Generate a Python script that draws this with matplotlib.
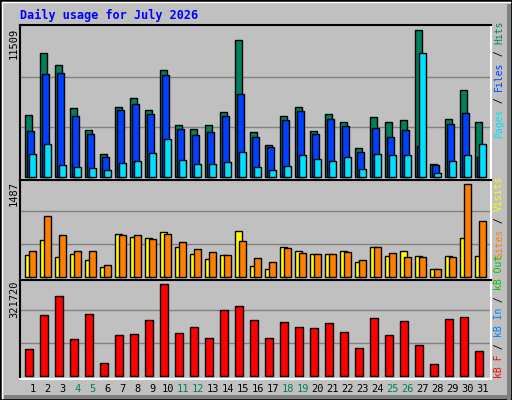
import numpy as np
import matplotlib
matplotlib.use("Agg")
import matplotlib.pyplot as plt
import matplotlib.patches as patches

# webalizer style daily usage
days = list(range(1, 32))
weekend = [4, 5, 11, 12, 18, 19, 25, 26]

hits = [4872, 9713, 8776, 5419, 3701, 1827, 5497, 6200, 5263, 8386, 4091, 3779, 4091, 5106, 10728, 3545,
        2530, 4794, 5497, 3623, 4950, 4326, 2296, 4716, 4326, 4482, 11509, 1046, 4560, 6824, 4326]
files = [3623, 8073, 8152, 4794, 3389, 1593, 5263, 5731, 4950, 7995, 3779, 3311, 3545, 4794, 6512, 3154,
         2374, 4482, 5184, 3389, 4560, 4013, 1983, 3857, 3154, 3701, 2452, 968, 4169, 5028, 1593]
pages = [1827, 2608, 968, 812, 734, 578, 1124, 1281, 1905, 2998, 1359, 1046, 1046, 1202, 1983, 812,
         578, 890, 1749, 1437, 1281, 1593, 656, 1827, 1749, 1749, 9713, 344, 1281, 1749, 2608]
visits = [343, 585, 311, 359, 263, 150, 681, 633, 617, 714, 472, 359, 279, 343, 730, 166,
          118, 472, 408, 359, 359, 408, 230, 472, 327, 408, 327, 118, 327, 617, 327]
sites = [408, 971, 665, 408, 408, 182, 665, 665, 601, 681, 553, 440, 391, 343, 569, 295,
         230, 456, 375, 359, 359, 391, 263, 472, 375, 311, 311, 118, 311, 1487, 891]
kbytes = [92681, 212497, 279453, 127921, 216021, 43345, 142017, 145541, 194877, 321720, 149065,
          170209, 131445, 230117, 244213, 194877, 131445, 187829, 170209, 166685, 184305, 152589,
          96205, 201925, 142017, 191353, 106777, 39821, 198401, 205449, 85633]

C_HITS, C_FILES, C_PAGES = "#00805c", "#0040ff", "#00e0ff"
C_VISITS, C_SITES = "#ffff00", "#ff8000"
C_KBF, C_KBIN, C_KBOUT = "#ff0000", "#0080ff", "#00c000"
BG = "#c0c0c0"
MONO = "DejaVu Sans Mono"

W, H = 512, 400
fig = plt.figure(figsize=(W / 100, H / 100), dpi=100, facecolor=BG)

def px_axes(x0, y0, x1, y1):
    return fig.add_axes([x0 / W, 1 - y1 / H, (x1 - x0) / W, (y1 - y0) / H])

# frame / bevel
fig.patches.append(patches.Rectangle((0, 0), 1, 1, transform=fig.transFigure, fill=False,
                                     edgecolor="black", lw=2))
fig.patches.append(patches.Rectangle((1 - 5 / W, 0), 4 / W, 1 - 4 / H, transform=fig.transFigure,
                                     color="#808080", lw=0))
fig.patches.append(patches.Rectangle((4 / W, 1 / H), 1 - 5 / W, 4 / H, transform=fig.transFigure,
                                     color="#808080", lw=0))
fig.lines.append(plt.Line2D([2 / W, 2 / W, 1 - 2 / W], [2 / H, 1 - 2 / H, 1 - 2 / H],
                            transform=fig.transFigure, color="white", lw=1))

x = np.arange(31) * 15 + 5.3
bk = dict(edgecolor="black", linewidth=1, align="edge")

def style(ax, top, u):
    ax.set_facecolor(BG)
    ax.set_xlim(0, 471)
    ax.set_ylim(-3.3 * u, top * u)
    for g in (33 * u, 66 * u):
        ax.axhline(g, color="#808080", lw=1, zorder=0)
    ax.set_xticks([])
    ax.set_yticks([])
    for s in ("left", "top"):
        ax.spines[s].set_color("black")
        ax.spines[s].set_linewidth(1.5)
    for s in ("right", "bottom"):
        ax.spines[s].set_color("white")
        ax.spines[s].set_linewidth(1.5)

# hits / files / pages
ax1 = px_axes(20, 25, 491, 180)
u1 = max(hits) / 147.4
ax1.set_facecolor(BG)
ax1.set_xlim(0, 471)
ax1.set_ylim(-3 * u1, 152 * u1)
for g in (50 * u1, 100 * u1):
    ax1.axhline(g, color="#808080", lw=1, zorder=0)
ax1.set_xticks([]); ax1.set_yticks([])
for s in ("left", "top"):
    ax1.spines[s].set_linewidth(1.5)
for s in ("right", "bottom"):
    ax1.spines[s].set_color("white"); ax1.spines[s].set_linewidth(1.5)
ax1.bar(x, hits, 7, color=C_HITS, **bk)
ax1.bar(x + 1.7, files, 7.3, color=C_FILES, **bk)
ax1.bar(x + 3.7, pages, 7.3, color=C_PAGES, **bk)

# visits / sites
ax2 = px_axes(20, 180, 491, 280)
u2 = max(sites) / 92.3
style(ax2, 96.7, u2)
ax2.bar(x, visits, 7, color=C_VISITS, **bk)
ax2.bar(x + 3.7, sites, 7.3, color=C_SITES, **bk)

# kbytes
ax3 = px_axes(20, 280, 491, 379)
u3 = max(kbytes) / 91.3
style(ax3, 95.7, u3)
ax3.bar(x, kbytes, 7.3, color=C_KBF, **bk)

# day labels
for d, xi in zip(days, x):
    fig.text((20 + xi + 7.5) / W, 1 - 389 / H, str(d), ha="center", va="center",
             family=MONO, fontsize=7.5, color=C_HITS if d in weekend else "black")

fig.text(20 / W, 1 - 15 / H, "Daily usage for July 2026", family=MONO, fontweight="bold",
         fontsize=8.5, color="#0000ff", va="center")

# left max labels
for val, ytop in ((max(hits), 28), (max(sites), 181), (max(kbytes), 281)):
    fig.text(14 / W, 1 - ytop / H, str(val), rotation=90, ha="center", va="top",
             family=MONO, fontsize=7.5, color="black")

# right legends, stacked pieces read bottom to top
FS = 7.0
CH = FS * 100 / 72 * 0.602
def legend(parts, ybottom):
    y = ybottom
    for txt, col in parts:
        fig.text(499 / W, 1 - y / H, txt, rotation=90, ha="center", va="bottom",
                 family=MONO, fontsize=FS, color=col)
        y -= len(txt) * CH

legend([("Pages", C_PAGES), (" / ", "black"), ("Files", C_FILES), (" / ", "black"), ("Hits", C_HITS)], 138)
legend([("Sites", C_SITES), (" / ", "black"), ("Visits", C_VISITS)], 258)
legend([("kB F", C_KBF), (" / ", "black"), ("kB In", C_KBIN), (" / ", "black"), ("kB Out", C_KBOUT)], 378)

fig.savefig("out.png", dpi=100, facecolor=BG)
